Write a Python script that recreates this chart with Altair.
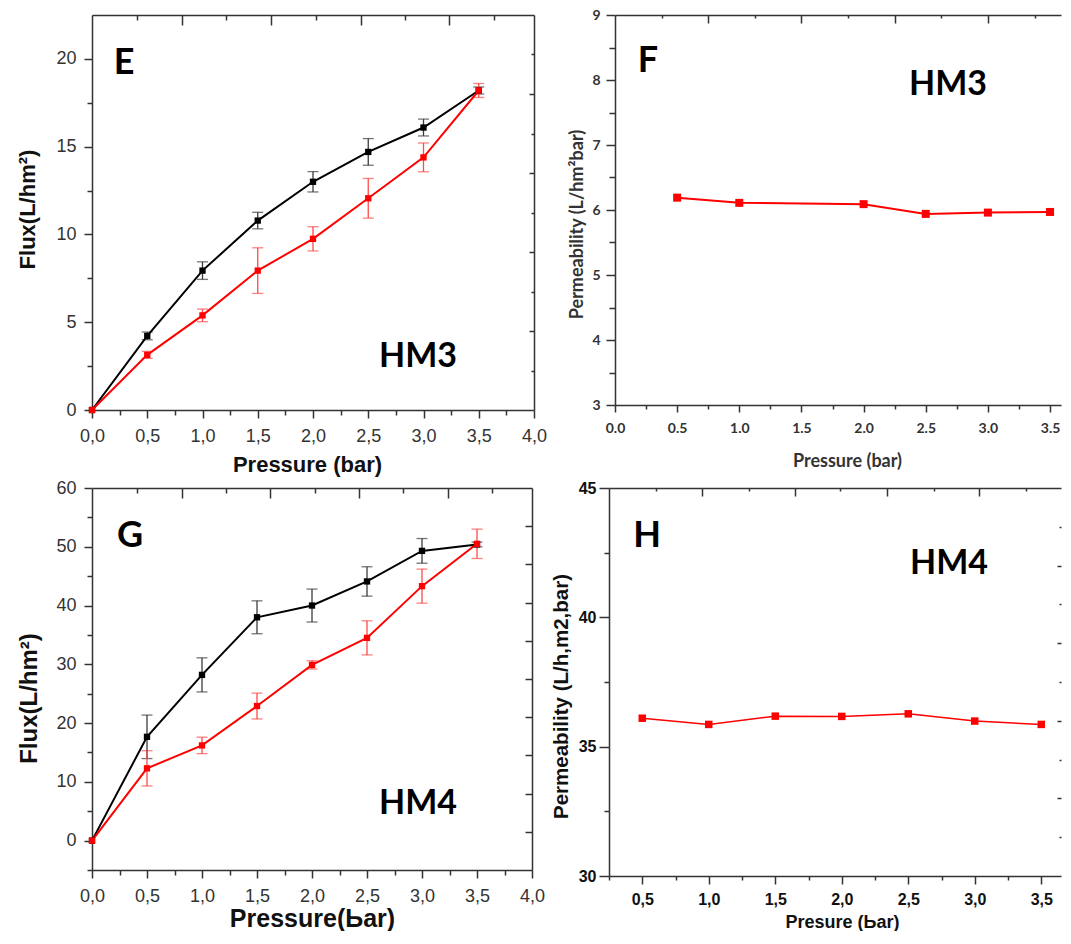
import altair as alt
import pandas as pd

# ---------------- data ----------------
pressure = [0.0, 0.5, 1.0, 1.5, 2.0, 2.5, 3.0, 3.5]

# panel E (HM3 flux)
e_black = [0.0, 4.22, 7.94, 10.79, 13.0, 14.7, 16.09, 18.2]
e_black_err = [0.0, 0.22, 0.5, 0.47, 0.58, 0.76, 0.48, 0.2]
e_red = [0.0, 3.14, 5.39, 7.94, 9.75, 12.06, 14.39, 18.2]
e_red_err = [0.0, 0.2, 0.36, 1.3, 0.69, 1.13, 0.82, 0.4]

# panel F (HM3 permeability)
f_pressure = [0.5, 1.0, 2.0, 2.5, 3.0, 3.5]
f_perm = [6.19, 6.11, 6.09, 5.94, 5.96, 5.97]

# panel G (HM4 flux)
g_black = [0.0, 17.66, 28.2, 38.0, 40.0, 44.1, 49.3, 50.4]
g_black_err = [0.0, 3.7, 2.9, 2.8, 2.8, 2.5, 2.1, 0.4]
g_red = [0.0, 12.3, 16.2, 22.9, 29.9, 34.5, 43.3, 50.5]
g_red_err = [0.0, 3.0, 1.4, 2.2, 0.7, 2.9, 2.9, 2.5]

# panel H (HM4 permeability)
h_pressure = [0.5, 1.0, 1.5, 2.0, 2.5, 3.0, 3.5]
h_perm = [36.1, 35.86, 36.18, 36.17, 36.27, 35.99, 35.86]

panel_letters = ["E", "F", "G", "H"]
sample_names = ["HM3", "HM3", "HM4", "HM4"]

# tick values
flux_x_major = [0.0, 0.5, 1.0, 1.5, 2.0, 2.5, 3.0, 3.5, 4.0]
flux_x_minor = [0.25, 0.75, 1.25, 1.75, 2.25, 2.75, 3.25, 3.75]
flux_top_long = [0.815, 1.62, 2.43, 3.235]
flux_top_short = [0.405, 1.215, 2.025, 2.83, 3.64]
e_y_major = [0, 5, 10, 15, 20]
e_y_minor = [2.5, 7.5, 12.5, 17.5]
e_right_long = [4.5, 9.0, 13.5, 18.0]
e_right_short = [2.25, 6.75, 11.25, 15.75, 20.25]
g_y_major = [0, 10, 20, 30, 40, 50, 60]
g_y_minor = [-5, 5, 15, 25, 35, 45, 55]
g_right_long = [1.4, 8.0, 14.5, 21.0, 27.5, 34.0, 40.5, 47.0, 53.5]

f_x_major = [0.0, 0.5, 1.0, 1.5, 2.0, 2.5, 3.0, 3.5]
f_x_minor = [0.25, 0.75, 1.25, 1.75, 2.25, 2.75, 3.25]
f_top_long = [0.75, 1.5, 2.25, 3.0]
f_top_short = [0.375, 1.125, 1.875, 2.625, 3.375]
f_y_major = [3, 4, 5, 6, 7, 8, 9]
f_y_minor = [3.5, 4.5, 5.5, 6.5, 7.5, 8.5]

h_x_major = [0.5, 1.0, 1.5, 2.0, 2.5, 3.0, 3.5]
h_x_minor = [0.25, 0.75, 1.25, 1.75, 2.25, 2.75, 3.25]
h_top_long = [0.95, 1.645, 2.34, 3.035]
h_top_short = [0.6, 1.3, 1.99, 2.69, 3.385]
h_y_major = [30, 35, 40, 45]
h_y_minor = [32.5, 37.5, 42.5]
h_right_long = [33, 36, 39, 42]
h_right_short = [31.5, 34.5, 37.5, 40.5, 43.5]

FRAME = "#333333"
RED = "#ff0000"
COMMA = "replace(format(datum.value, '.1f'), '.', ',')"


def flux_frame(black, black_err, red, red_err):
    rows = []
    for name, ys, es in (("black", black, black_err), ("red", red, red_err)):
        for x, y, e in zip(pressure, ys, es):
            rows.append({"x": x, "y": y, "lo": y - e, "hi": y + e, "err": e, "s": name})
    return pd.DataFrame(rows)


def perm_frame(xs, ys):
    return pd.DataFrame({"x": xs, "y": ys, "s": ["red"] * len(xs)})


def axis(**kw):
    d = dict(grid=False, domainColor=FRAME, domainWidth=1.5, tickColor=FRAME, tickWidth=1.5,
             labelFlush=False, labelOverlap=False)
    d.update(kw)
    return alt.Axis(**d)


def hidden(orient, values, size, offset=None, domain=False):
    kw = dict(orient=orient, values=values, tickSize=size, labels=False,
              domain=domain, title=None)
    if offset is not None:
        kw["offset"] = offset
    return axis(**kw)


def panel(df, c):
    w, h = c["w"], c["h"]
    xs = alt.Scale(domain=c["xdom"], nice=False, zero=False)
    ys = alt.Scale(domain=c["ydom"], nice=False, zero=False)
    base = alt.Chart(df)

    main_x = axis(orient="bottom", values=c["xmajor"], tickSize=c["xt"],
                  labelExpr=c["xfmt"], labelFont=c["lfont"], labelFontSize=c["lsize"],
                  labelFontWeight=c["lweight"], labelColor=c["lcolor"], labelPadding=c["xlp"],
                  title=c["xtitle"], titleFont=c["tfont"], titleFontSize=c["xts"],
                  titleFontWeight="bold", titleColor=c["tcolor"], titlePadding=c["xtp"],
                  titleX=c["xtx"])
    main_y = axis(orient="left", values=c["ymajor"], tickSize=c["yt"],
                  labelFont=c["lfont"], labelFontSize=c["lsize"],
                  labelFontWeight=c["lweight"], labelColor=c["lcolor"], labelPadding=c["ylp"],
                  title=c["ytitle"], titleFont=c["tfont"], titleFontSize=c["yts"],
                  titleFontWeight="bold", titleColor=c["tcolor"], titlePadding=c["ytp"],
                  titleY=c["yty"])

    color = alt.condition("datum.s == 'red'", alt.value(RED), alt.value("#000000"))

    line = base.mark_line(strokeWidth=c["lw"]).encode(
        x=alt.X("x:Q", scale=xs, axis=main_x),
        y=alt.Y("y:Q", scale=ys, axis=main_y),
        detail="s:N", color=color)

    pts = base.mark_square(size=c["msize"], opacity=1).encode(
        x=alt.X("x:Q", scale=xs, axis=None),
        y=alt.Y("y:Q", scale=ys, axis=None),
        color=color)

    minor = base.mark_point(opacity=0).encode(
        x=alt.X("x:Q", scale=xs, axis=hidden("bottom", c["xminor"], c["xmt"])),
        y=alt.Y("y:Q", scale=ys, axis=hidden("left", c["yminor"], c["ymt"])))

    top_long = base.mark_point(opacity=0).encode(
        x=alt.X("x:Q", scale=xs, axis=hidden("bottom", c["top_long"], c["tlt"], offset=-h, domain=True)),
        y=alt.Y("y:Q", scale=ys, axis=hidden("left", c["right_long"], c["rlt"], offset=-w,
                                              domain=c["rdom"])))
    top_short = base.mark_point(opacity=0).encode(
        x=alt.X("x:Q", scale=xs, axis=hidden("bottom", c["top_short"], c["tst"], offset=-h)),
        y=alt.Y("y:Q", scale=ys, axis=hidden("left", c["right_short"], c["rst"], offset=-w)))

    layers = [minor, top_long, top_short]

    if "lo" in df.columns:
        ecolor = alt.condition("datum.s == 'red'", alt.value("#ff4a4a"), alt.value("#3c3c3c"))
        err = base.transform_filter("datum.err > 0").mark_errorbar(
            ticks={"size": 11, "thickness": 1.3}, rule={"strokeWidth": 1.3}).encode(
            x=alt.X("x:Q", scale=xs, axis=None),
            y=alt.Y("lo:Q", scale=ys, axis=None),
            y2="hi:Q",
            color=ecolor)
        layers.append(err)

    layers += [line, pts]

    letter = alt.Chart(pd.DataFrame({"t": [c["letter"]]})).mark_text(
        font="Lato", fontWeight="bold", fontSize=36, color="#000", align="center",
        baseline="middle").encode(x=alt.value(c["lpos"][0]), y=alt.value(c["lpos"][1]), text="t:N")
    tag = alt.Chart(pd.DataFrame({"t": [c["tag"]]})).mark_text(
        font="Lato", fontWeight="bold", fontSize=34, color="#000", align="center",
        baseline="middle").encode(x=alt.value(c["tpos"][0]), y=alt.value(c["tpos"][1]), text="t:N")
    layers += [letter, tag]

    return alt.layer(*layers).resolve_axis(x="independent", y="independent").properties(
        width=w, height=h)


flux_common = dict(
    xdom=[0, 4], xmajor=flux_x_major, xminor=flux_x_minor, xfmt=COMMA,
    xt=8, xmt=5, yt=8, ymt=5, tlt=10, tst=5,
    top_long=flux_top_long, top_short=flux_top_short,
    lfont="Liberation Sans", lsize=18, lweight="normal", lcolor="#333333",
    tfont="Liberation Sans", tcolor="#111111",
    xlp=9, ylp=8, lw=2, msize=40, rdom=True,
)

E = panel(flux_frame(e_black, e_black_err, e_red, e_red_err), dict(
    flux_common, w=442, h=395, ydom=[0, 22.5], ymajor=e_y_major, yminor=e_y_minor,
    right_long=e_right_long, right_short=e_right_short, rlt=5, rst=3,
    xtitle="Pressure (bar)", xts=22, xtp=9, xtx=215,
    ytitle="Flux(L/hm²)", yts=22, ytp=16, yty=194,
    letter=panel_letters[0], tag=sample_names[0], lpos=(32, 48), tpos=(326, 342)))

G = panel(flux_frame(g_black, g_black_err, g_red, g_red_err), dict(
    flux_common, w=440, h=382, ydom=[-5, 60], ymajor=g_y_major, yminor=g_y_minor,
    right_long=g_right_long, right_short=[], rlt=7, rst=3,
    xtitle="Pressure(Ьar)", xts=25, xtp=1, xtx=220,
    ytitle="Flux(L/hm²)", yts=24, ytp=14, yty=210,
    letter=panel_letters[2], tag=sample_names[2], lpos=(38, 48), tpos=(326, 316)))

F_W = 446
F = panel(perm_frame(f_pressure, f_perm), dict(
    w=F_W, h=390, xdom=[0, F_W / 124.3], ydom=[3, 9],
    xmajor=f_x_major, xminor=f_x_minor, xfmt="format(datum.value, '.1f')",
    ymajor=f_y_major, yminor=f_y_minor,
    xt=7, xmt=4, yt=9, ymt=6, tlt=8, tst=3, rlt=4, rst=2,
    top_long=f_top_long, top_short=f_top_short, right_long=[], right_short=[], rdom=False,
    lfont="Lato", lsize=14, lweight="bold", lcolor="#333333",
    tfont="Lato", tcolor="#333333", xlp=9, ylp=6,
    xtitle="Pressure (bar)", xts=18, xtp=17, xtx=232,
    ytitle="Permeability (L/hm²bar)", yts=18, ytp=5, yty=209,
    lw=2, msize=64,
    letter=panel_letters[1], tag=sample_names[1], lpos=(33, 46), tpos=(333, 70)))

H_W = 452
H = panel(perm_frame(h_pressure, h_perm), dict(
    w=H_W, h=388, xdom=[0.25, 0.25 + H_W / 133.0], ydom=[30, 45],
    xmajor=h_x_major, xminor=h_x_minor, xfmt=COMMA,
    ymajor=h_y_major, yminor=h_y_minor,
    xt=8, xmt=4, yt=10, ymt=5, tlt=8, tst=3, rlt=4, rst=2,
    top_long=h_top_long, top_short=h_top_short,
    right_long=h_right_long, right_short=h_right_short, rdom=False,
    lfont="Liberation Sans", lsize=16, lweight="bold", lcolor="#111111",
    tfont="Liberation Sans", tcolor="#111111", xlp=7, ylp=3,
    xtitle="Presure (Ьar)", xts=18, xtp=6, xtx=233,
    ytitle="Permeability (L/h,m2,bar)", yts=20.5, ytp=7, yty=208,
    lw=1.5, msize=56,
    letter=panel_letters[3], tag=sample_names[3], lpos=(38, 48), tpos=(340, 76)))

row1 = alt.hconcat(E, F, spacing=21)
row2 = alt.hconcat(G, H, spacing=6)

chart = alt.vconcat(row1, row2, spacing=4).properties(
    padding={"left": 8, "top": 0, "right": 0, "bottom": 0}
).configure_view(stroke=None).configure_axis(grid=False)

chart.save("out.html", embed_options={"renderer": "svg", "actions": False})
